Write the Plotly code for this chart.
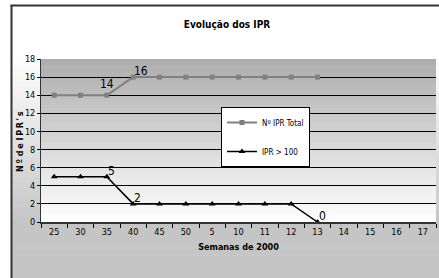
import plotly.graph_objects as go

categories = ["25", "30", "35", "40", "45", "50", "5", "10", "11", "12", "13", "14", "15", "16", "17"]
total_ipr = [14, 14, 14, 16, 16, 16, 16, 16, 16, 16, 16]
ipr_100 = [5, 5, 5, 2, 2, 2, 2, 2, 2, 2, 0]
total_labels = ["", "", "14", "16", "", "", "", "", "", "", ""]
ipr_100_labels = ["", "", "5", "2", "", "", "", "", "", "", "0"]
y_ticks = [0, 2, 4, 6, 8, 10, 12, 14, 16, 18]

W, H = 439, 278
L, R, T, B = 41, 436, 59, 222
FONT = "DejaVu Sans Condensed, Liberation Sans Narrow, Arial Narrow, Liberation Sans, Arial"


def px(x):
    return (x - L) / (R - L)


def py(y):
    return (B - y) / (B - T)


def lerp(a, b, t):
    return a + (b - a) * t


shapes = []
# chart area gradient
y0c, y1c = 5, 278
n = 60
for i in range(n):
    ya = lerp(y0c, y1c, i / n)
    yb = lerp(y0c, y1c, (i + 1) / n) + 0.6
    ym = (ya + yb) / 2
    t = min(max((ym - 55) / (225 - 55), 0), 1)
    c = int(round(lerp(255, 197, t)))
    shapes.append(dict(type="rect", xref="paper", yref="paper", layer="below",
                       x0=px(11), x1=px(440), y0=py(ya), y1=py(yb),
                       fillcolor=f"rgb({c},{c},{c})", line=dict(width=0)))
# plot area gradient
for i in range(n):
    ya = lerp(T, B, i / n)
    yb = lerp(T, B, (i + 1) / n) + 0.6
    t = ((ya + yb) / 2 - T) / (B - T)
    c = int(round(lerp(172, 255, t)))
    shapes.append(dict(type="rect", xref="paper", yref="paper", layer="below",
                       x0=0, x1=1, y0=py(ya), y1=py(min(yb, B)),
                       fillcolor=f"rgb({c},{c},{c})", line=dict(width=0)))
# frame borders
shapes.append(dict(type="line", xref="paper", yref="paper", layer="above",
                   x0=px(11.5), x1=px(11.5), y0=py(5), y1=py(279),
                   line=dict(color="#333333", width=2)))
shapes.append(dict(type="line", xref="paper", yref="paper", layer="above",
                   x0=px(10.5), x1=px(440), y0=py(5.5), y1=py(5.5),
                   line=dict(color="#333333", width=2)))

fig = go.Figure()
fig.add_trace(go.Scatter(
    x=categories[:len(total_ipr)], y=total_ipr, name="Nº IPR Total",
    mode="lines+markers",
    line=dict(color="#808080", width=2),
    marker=dict(symbol="square", size=5, color="#808080"),
    legendgroup="a", cliponaxis=False,
))
fig.add_trace(go.Scatter(
    x=categories[:len(ipr_100)], y=ipr_100, name="IPR > 100",
    mode="lines+markers",
    line=dict(color="#000000", width=1.5),
    marker=dict(symbol="triangle-up", size=6, color="#000000"),
    legendgroup="b", cliponaxis=False,
))

# data labels (x given as category index)
annotations = []
for ys, labels in ((total_ipr, total_labels), (ipr_100, ipr_100_labels)):
    for i, lab in enumerate(labels):
        if not lab:
            continue
        first = (lab == "14")
        annotations.append(dict(
            x=i, y=ys[i], xref="x", yref="y", text=lab, showarrow=False,
            xanchor="center" if first else "left", yanchor="bottom",
            xshift=0 if first else -1, yshift=2 if first else -3,
            font=dict(family=FONT, size=12, color="#000000")))

# y axis title
annotations.append(dict(
    x=px(20), y=py(142), xref="paper", yref="paper", xanchor="center", yanchor="middle",
    text="<b>N\u2009º d\u2009e I\u2009P\u2009R\u2009'\u2009s</b>", textangle=-90, showarrow=False,
    font=dict(family=FONT, size=9, color="#000000")))

fig.update_layout(
    width=W, height=H,
    margin=dict(l=L, r=W - R, t=T, b=H - B),
    paper_bgcolor="white",
    plot_bgcolor="rgba(0,0,0,0)",
    font=dict(family=FONT, size=9, color="#000000"),
    title=dict(text="<b>Evolução dos IPR</b>", x=227 / W, xanchor="center",
               y=1 - 24 / H, yanchor="middle", font=dict(family=FONT, size=10)),
    shapes=shapes,
    annotations=annotations,
    showlegend=True,
    legend=dict(x=px(221), y=py(107), xanchor="left", yanchor="top",
                bgcolor="white", bordercolor="#000000", borderwidth=1,
                font=dict(family=FONT, size=8), tracegroupgap=10,
                itemwidth=30),
    xaxis=dict(
        type="category", categoryorder="array", categoryarray=categories,
        range=[-0.5, len(categories) - 0.5],
        showgrid=False, ticks="outside", tickson="boundaries", ticklen=4,
        tickcolor="#000000", showline=True, linecolor="#333333", linewidth=2,
        tickfont=dict(family=FONT, size=9),
        title=dict(text="<b>Semanas de 2000</b>", standoff=8,
                   font=dict(family=FONT, size=9)),
        fixedrange=True,
    ),
    yaxis=dict(
        range=[0, 18], tickvals=y_ticks, showgrid=True, gridcolor="#000000",
        gridwidth=1, ticks="outside", ticklen=3, tickcolor="#000000",
        showline=True, linecolor="#333333", linewidth=1, zeroline=False,
        tickfont=dict(family=FONT, size=9),
        fixedrange=True,
    ),
)

fig.write_html("out.html", config={"displayModeBar": False},
               post_script="document.body.style.margin='0';document.body.style.overflow='hidden';")
